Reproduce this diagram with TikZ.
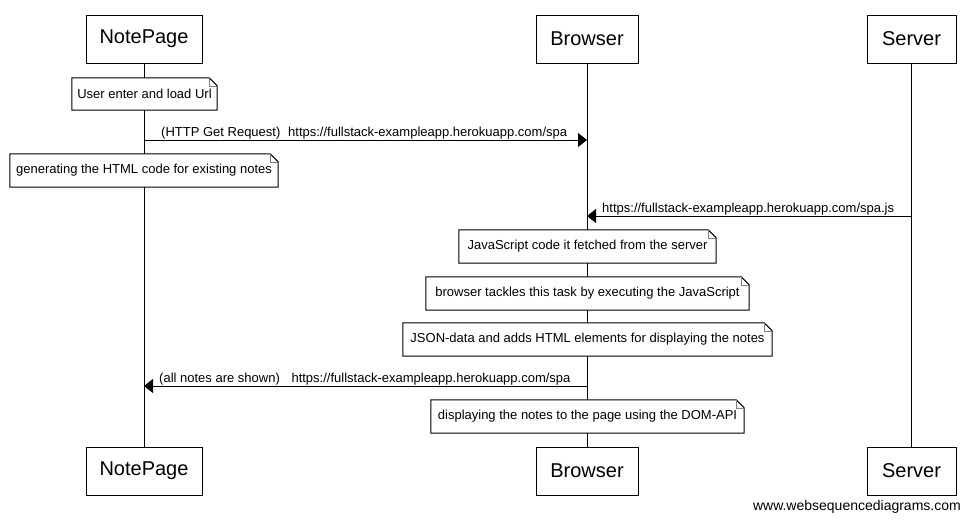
\documentclass[tikz,border=0pt]{standalone}
\usepackage{fontspec}
\setmainfont{Liberation Sans}
\usetikzlibrary{arrows.meta}
\tikzset{
  actor/.style={draw=black, line width=1pt, fill=white, minimum height=48pt, inner sep=0pt, font=\fontsize{20}{24}\selectfont},
  notetext/.style={fill=white, inner sep=0pt, font=\fontsize{13}{15}\selectfont},
  msgtext/.style={inner sep=0pt, anchor=base west, font=\fontsize{13}{15}\selectfont},
  lifeline/.style={line width=1pt, black},
  msg/.style={line width=1pt, -{Triangle[length=9pt,width=14pt]}},
  noteline/.style={line width=1pt, black},
  fold/.style={line width=0.6pt, gray},
}
\newcommand\notebox[1]{%
  \draw[noteline] (#1.north west) -- ([xshift=-8pt]#1.north east) -- ([yshift=-8pt]#1.north east) -- (#1.south east) -- (#1.south west) -- cycle;
  \draw[fold] ([xshift=-8pt]#1.north east) -- ([xshift=-8pt,yshift=-8pt]#1.north east) -- ([yshift=-8pt]#1.north east);
}
\begin{document}
\begin{tikzpicture}[x=1pt,y=-1pt]
\useasboundingbox[fill=white] (0,0) rectangle (971,520);
% actors top
\node[actor, minimum width=116pt] (np1) at (144,39) {NotePage};
\node[actor, minimum width=102pt] (br1) at (587,39) {Browser};
\node[actor, minimum width=89pt] (sv1) at (911.5,39) {Server};
% actors bottom
\node[actor, minimum width=116pt] (np2) at (144,471) {NotePage};
\node[actor, minimum width=102pt] (br2) at (587,471) {Browser};
\node[actor, minimum width=89pt] (sv2) at (911.5,471) {Server};
% lifelines
\draw[lifeline] (np1.south) -- (np2.north);
\draw[lifeline] (br1.south) -- (br2.north);
\draw[lifeline] (sv1.south) -- (sv2.north);
% notes
\node[notetext, minimum width=145pt, minimum height=32pt] (n1) at (144.5,94) {User enter and load Url};
\notebox{n1}
\node[notetext, minimum width=268pt, minimum height=33pt] (n2) at (144,170.5) {generating the HTML code for existing notes};
\notebox{n2}
\node[notetext, minimum width=257pt, minimum height=33pt] (n3) at (587.5,246.5) {JavaScript code it fetched from the server};
\notebox{n3}
\node[notetext, minimum width=323pt, minimum height=33pt] (n4) at (587.5,293.5) {browser tackles this task by executing the JavaScript};
\notebox{n4}
\node[notetext, minimum width=369pt, minimum height=33pt] (n5) at (587.5,339.5) {JSON-data and adds HTML elements for displaying the notes};
\notebox{n5}
\node[notetext, minimum width=313pt, minimum height=33pt] (n6) at (587.5,416.5) {displaying the notes to the page using the DOM-API};
\notebox{n6}
% message endpoints
\coordinate (m1s) at (np1.south |- 0,140);
\coordinate (m1e) at (br1.south |- 0,140);
\coordinate (m2s) at (sv1.south |- 0,216);
\coordinate (m2e) at (br1.south |- 0,216);
\coordinate (m3s) at (br1.south |- 0,386);
\coordinate (m3e) at (np1.south |- 0,386);
\draw[msg] (m1s) -- (m1e);
\draw[msg] (m2s) -- (m2e);
\draw[msg] (m3s) -- (m3e);
\node[msgtext] (l1) at (161,136) {(HTTP Get Request)\hspace{0.6em}https://fullstack-exampleapp.herokuapp.com/spa};
\node[msgtext] (l2) at (602,212) {https://fullstack-exampleapp.herokuapp.com/spa.js};
\node[msgtext] (l3) at (159,382) {(all notes are shown)\hspace{0.9em}https://fullstack-exampleapp.herokuapp.com/spa};
% footer
\node[inner sep=0pt, anchor=base east, font=\fontsize{14}{16}\selectfont] (ft) at (961,510) {www.websequencediagrams.com};
\end{tikzpicture}
\end{document}
